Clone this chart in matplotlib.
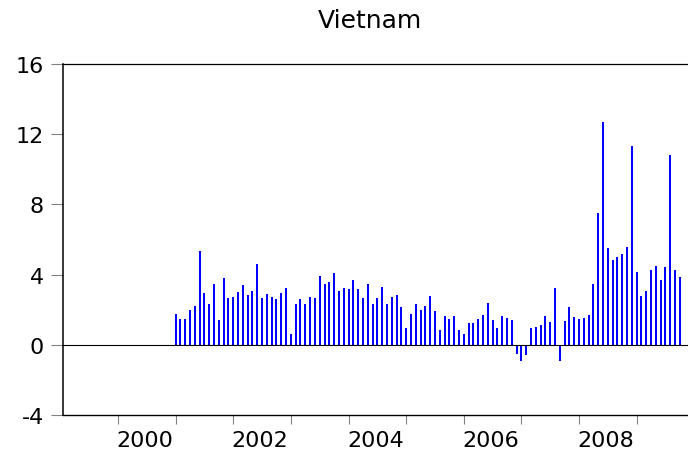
import matplotlib
matplotlib.use("Agg")
import matplotlib.pyplot as plt
import numpy as np
import pandas as pd

plt.rcParams['font.family'] = ['DejaVu Sans']

title = "Vietnam"
start = "2001-01"
values = [
    1.76, 1.46, 1.49, 2.00, 2.21, 5.36, 2.97, 2.33, 3.44, 1.44, 3.80, 2.69,   # 2001
    2.72, 3.03, 3.41, 2.82, 3.05, 4.60, 2.69, 2.90, 2.74, 2.63, 2.95, 3.24,   # 2002
    0.60, 2.33, 2.61, 2.35, 2.70, 2.67, 3.92, 3.44, 3.60, 4.07, 3.07, 3.24,   # 2003
    3.18, 3.71, 3.16, 2.65, 3.47, 2.35, 2.65, 3.30, 2.35, 2.73, 2.86, 2.16,   # 2004
    0.93, 1.76, 2.33, 2.00, 2.21, 2.78, 1.95, 0.85, 1.63, 1.46, 1.63, 0.87,   # 2005
    0.60, 1.25, 1.25, 1.49, 1.70, 2.36, 1.42, 0.93, 1.65, 1.55, 1.44, -0.53,  # 2006
    -0.93, -0.57, 0.93, 1.04, 1.15, 1.65, 1.29, 3.24, -0.91, 1.38, 2.16, 1.61,  # 2007
    1.46, 1.55, 1.70, 3.48, 7.50, 12.67, 5.49, 4.85, 4.98, 5.19, 5.60, 11.31,  # 2008
    4.15, 2.78, 3.07, 4.24, 4.51, 3.71, 4.43, 10.81, 4.28, 3.86,              # 2009
]
year_ticks = list(range(2000, 2010))
year_labels = ['2000', '2002', '2004', '2006', '2008']
y_ticks = [-4, 0, 4, 8, 12, 16]

periods = pd.period_range(start, periods=len(values), freq='M')
x = periods.year + (periods.month - 1) / 12.0

W, H = 688, 456
fig = plt.figure(figsize=(W / 100, H / 100), dpi=100)
left_px, right_px, top_px, bot_px = 62.5, 688, 65, 416
ax = fig.add_axes([left_px / W, (H - bot_px) / H, (right_px - left_px) / W, (bot_px - top_px) / H])

px_per_year = 57.63
x0_px = 118.0  # pixel of 2000
ax.set_xlim(2000 - (x0_px - left_px) / px_per_year, 2000 + (right_px - x0_px) / px_per_year)
ax.set_ylim(-4, 16)

ax.bar(x, values, width=2.0 / px_per_year, color='#0000ff', linewidth=0,
       align='center', zorder=2)
ax.axhline(0, color='black', linewidth=0.8, zorder=3)

for s in ['left', 'top', 'bottom']:
    ax.spines[s].set_color('black')
ax.spines['left'].set_linewidth(1.1)
ax.spines['top'].set_linewidth(0.9)
ax.spines['bottom'].set_linewidth(1.0)
ax.spines['right'].set_visible(False)

ax.set_yticks(y_ticks)
ax.set_yticklabels([str(v) for v in y_ticks])
ax.tick_params(axis='y', which='major', direction='out', length=9, width=0.8,
               color='#808080', pad=4.5, labelsize=16, labelcolor='black')

ax.set_xticks(year_ticks)
ax.set_xticklabels([''] * len(year_ticks))
ax.set_xticks([int(l) + 0.465 for l in year_labels], minor=True)
ax.set_xticklabels(year_labels, minor=True)
ax.tick_params(axis='x', which='major', direction='out', length=6.8, width=0.8,
               color='#808080')
ax.tick_params(axis='x', which='minor', length=0, pad=10.5, labelsize=16,
               labelcolor='black')

fig.text(370 / W, (H - 28.3) / H, title, ha='center', va='baseline', fontsize=18)

fig.savefig('out.png', dpi=100)
